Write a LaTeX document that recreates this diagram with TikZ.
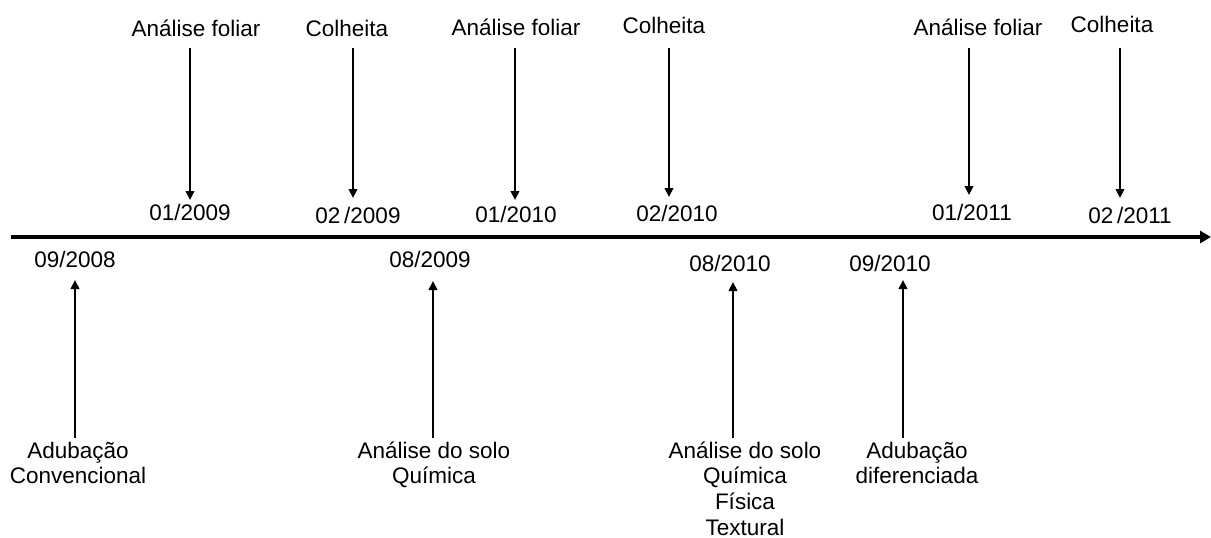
\documentclass[tikz,border=0pt]{standalone}
\usepackage{fontspec}
\setmainfont{Liberation Sans}
\usetikzlibrary{arrows.meta}
\tikzset{
  lbl/.style={anchor=base, inner sep=0pt, font=\fontsize{22.5}{25.7}\selectfont},
  conn/.style={line width=2.2pt, -{Triangle[length=9pt,width=8.5pt]}},
  axisline/.style={line width=4pt, -{Triangle[length=11pt,width=12pt]}}
}
\newcommand{\stack}[1]{\begin{tabular}[t]{@{}c@{}}#1\end{tabular}}
\begin{document}
\begin{tikzpicture}[x=1pt,y=-1pt]
\useasboundingbox (0,0) rectangle (1211,538);
\renewcommand{\arraystretch}{1}
% axis
\coordinate (axs) at (11,237);
\coordinate (axe) at (1211,237);
\draw[axisline] (axs) -- (axe);
% top labels
\node[lbl] (L1) at (196,36) {Análise foliar};
\node[lbl] (L2) at (347,36) {Colheita};
\node[lbl] (L3) at (516,35) {Análise foliar};
\node[lbl] (L4) at (664,33) {Colheita};
\node[lbl] (L5) at (978,35) {Análise foliar};
\node[lbl] (L6) at (1112,32) {Colheita};
% top dates
\node[lbl] (D1) at (190,220) {01/2009};
\node[lbl] (D2) at (358,223) {02\,/2009};
\node[lbl] (D3) at (516,222) {01/2010};
\node[lbl] (D4) at (677,221) {02/2010};
\node[lbl] (D5) at (972,220) {01/2011};
\node[lbl] (D6) at (1130,223) {02\,/2011};
% top arrows
\coordinate (t1s) at (190,48); \coordinate (t1e) at (190,200);
\coordinate (t2s) at (353,48); \coordinate (t2e) at (353,198);
\coordinate (t3s) at (515,48); \coordinate (t3e) at (515,200);
\coordinate (t4s) at (669,48); \coordinate (t4e) at (669,197);
\coordinate (t5s) at (969,48); \coordinate (t5e) at (969,195);
\coordinate (t6s) at (1120,48); \coordinate (t6e) at (1120,198);
\foreach \i in {1,...,6} {\draw[conn] (t\i s) -- (t\i e);}
% bottom dates
\node[lbl] (B1) at (75,267) {09/2008};
\node[lbl] (B2) at (430,267) {08/2009};
\node[lbl] (B3) at (730,271) {08/2010};
\node[lbl] (B4) at (890,271) {09/2010};
% bottom labels
\node[lbl] (E1) at (78,458) {\stack{Adubação\\Convencional}};
\node[lbl] (E2) at (434,458) {\stack{Análise do solo\\Química}};
\node[lbl] (E3) at (745,458) {\stack{Análise do solo\\Química\\Física\\Textural}};
\node[lbl] (E4) at (917,458) {\stack{Adubação\\diferenciada}};
% bottom arrows
\coordinate (b1s) at (75,438); \coordinate (b1e) at (75,280);
\coordinate (b2s) at (433,438); \coordinate (b2e) at (433,281);
\coordinate (b3s) at (733,438); \coordinate (b3e) at (733,282);
\coordinate (b4s) at (903,438); \coordinate (b4e) at (903,280);
\foreach \i in {1,...,4} {\draw[conn] (b\i s) -- (b\i e);}
\end{tikzpicture}
\end{document}
